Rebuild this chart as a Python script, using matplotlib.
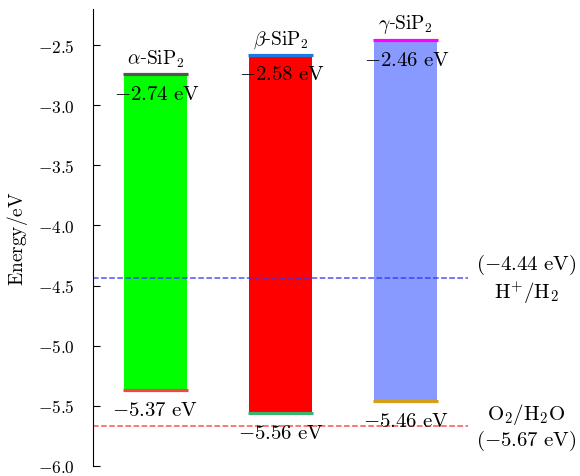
import matplotlib
matplotlib.use("Agg")
import matplotlib.pyplot as plt
from matplotlib.ticker import FuncFormatter

plt.rcParams["mathtext.fontset"] = "cm"
plt.rcParams["font.family"] = "serif"
plt.rcParams["font.serif"] = ["DejaVu Serif"]

# band edges of the three SiP2 phases (eV)
names = [r"$\mathrm{\alpha}$-$\mathrm{SiP_2}$", r"$\mathrm{\beta}$-$\mathrm{SiP_2}$", r"$\gamma$-$\mathrm{SiP_2}$"]
cbm = [-2.74, -2.58, -2.46]
vbm = [-5.37, -5.56, -5.46]
bar_colors = ["#00ff00", "#ff0000", "#8899ff"]
top_colors = ["#555555", "#1f78e0", "#ff00ff"]
bottom_colors = ["#f04848", "#3cb371", "#d4a017"]

# water redox levels
h_level = -4.44
o_level = -5.67

fig = plt.figure(figsize=(5.8, 4.77), dpi=100)
ax = fig.add_axes([0.160, 0.021, 0.755, 0.958])

x = range(len(names))
for i in x:
    ax.bar(i, cbm[i] - vbm[i], bottom=vbm[i], width=0.5, color=bar_colors[i], zorder=2)
    ax.hlines(cbm[i], i - 0.26, i + 0.26, color=top_colors[i], lw=2.3, zorder=3)
    ax.hlines(vbm[i], i - 0.26, i + 0.26, color=bottom_colors[i], lw=2.3, zorder=3)
    ax.text(i, cbm[i] + 0.04, names[i], ha="center", va="bottom", fontsize=14)
    ax.text(i + 0.01, cbm[i] - 0.16, rf"$-{abs(cbm[i]):.2f}\ \mathrm{{eV}}$",
            ha="center", va="center", fontsize=15, zorder=4)
    ax.text(i, vbm[i] - 0.16, rf"$-{abs(vbm[i]):.2f}\ \mathrm{{eV}}$",
            ha="center", va="center", fontsize=15, zorder=4)

ax.hlines(h_level, -0.5, 2.5, colors="#3333ff", linestyles="--", lw=1.1, alpha=0.85)
ax.hlines(o_level, -0.5, 2.5, colors="#ff3333", linestyles="--", lw=1.1, alpha=0.85)
ax.text(2.965, h_level, r"$(-4.44\ \mathrm{eV})$" + "\n" + r"$\mathrm{H^{+}/H_2}$",
        ha="center", va="center", fontsize=15, linespacing=1.1)
ax.text(2.965, o_level, r"$\mathrm{O_2/H_2O}$" + "\n" + r"$(-5.67\ \mathrm{eV})$",
        ha="center", va="center", fontsize=15, linespacing=1.1)

ax.set_xlim(-0.5, 3.0)
ax.set_ylim(-6.0, -2.2)
ax.set_yticks([-6.0, -5.5, -5.0, -4.5, -4.0, -3.5, -3.0, -2.5])
ax.yaxis.set_major_formatter(FuncFormatter(lambda v, p: rf"${v:.1f}$"))
ax.tick_params(axis="y", labelsize=12.5, direction="in", length=5, pad=13)
ax.set_xticks([])
ax.set_ylabel(r"$\mathrm{Energy/eV}$", fontsize=14)
ax.yaxis.set_label_coords(-0.172, 0.5)
ax.yaxis.label.set_va("center")
for s in ["top", "right", "bottom"]:
    ax.spines[s].set_visible(False)

fig.savefig("out.png", dpi=100)
